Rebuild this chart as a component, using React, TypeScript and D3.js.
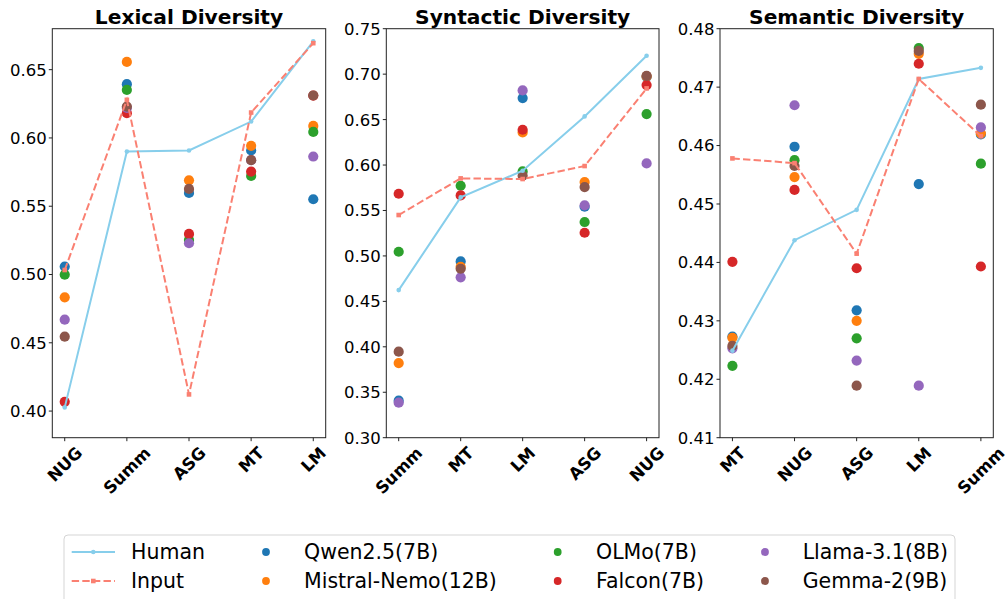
import React, { useEffect, useRef } from "react";
import * as d3 from "d3";

// ---------- DATA ----------
const lexCats = ["NUG", "Summ", "ASG", "MT", "LM"];
const lexHuman = [0.4027, 0.590, 0.5908, 0.612, 0.6707];
const lexInput = [0.5033, 0.6279, 0.4122, 0.6186, 0.6694];
const lexQwen = [0.5058, 0.6394, 0.5597, 0.5908, 0.5551];
const lexMistral = [0.4833, 0.6557, 0.569, 0.5942, 0.6088];
const lexOlmo = [0.4999, 0.6352, 0.5253, 0.5722, 0.6044];
const lexFalcon = [0.4068, 0.6181, 0.5297, 0.5754, 0.631];
const lexLlama = [0.4669, 0.622, 0.5229, 0.5837, 0.5864];
const lexGemma = [0.4545, 0.623, 0.5627, 0.5837, 0.6311];

const synCats = ["Summ", "MT", "LM", "ASG", "NUG"];
const synHuman = [0.4624, 0.5644, 0.5937, 0.6535, 0.7202];
const synInput = [0.545, 0.5853, 0.5846, 0.5989, 0.6843];
const synQwen = [0.3407, 0.494, 0.6737, 0.5541, 0.697];
const synMistral = [0.3821, 0.488, 0.6359, 0.5813, 0.6975];
const synOlmo = [0.5046, 0.5772, 0.593, 0.5373, 0.6561];
const synFalcon = [0.5684, 0.5666, 0.6388, 0.5255, 0.688];
const synLlama = [0.3385, 0.4764, 0.6821, 0.5556, 0.6018];
const synGemma = [0.3946, 0.4859, 0.5882, 0.5758, 0.6982];

const semCats = ["MT", "NUG", "ASG", "LM", "Summ"];
const semHuman = [0.4249, 0.4438, 0.449, 0.4714, 0.4733];
const semInput = [0.4578, 0.457, 0.4415, 0.4714, 0.4616];
const semQwen = [0.4273, 0.4598, 0.4318, 0.4534, 0.4619];
const semMistral = [0.4271, 0.4546, 0.43, 0.4757, 0.4621];
const semOlmo = [0.4223, 0.4575, 0.427, 0.4767, 0.4569];
const semFalcon = [0.4401, 0.4524, 0.439, 0.474, 0.4393];
const semLlama = [0.4253, 0.4669, 0.4232, 0.4189, 0.4631];
const semGemma = [0.4257, 0.4565, 0.4189, 0.4762, 0.467];

const lexTicks = [0.4, 0.45, 0.5, 0.55, 0.6, 0.65];
const synTicks = [0.3, 0.35, 0.4, 0.45, 0.5, 0.55, 0.6, 0.65, 0.7, 0.75];
const semTicks = [0.41, 0.42, 0.43, 0.44, 0.45, 0.46, 0.47, 0.48];

const modelNames = ["Qwen2.5(7B)", "Mistral-Nemo(12B)", "OLMo(7B)", "Falcon(7B)", "Llama-3.1(8B)", "Gemma-2(9B)"];
const modelColors = ["#1f77b4", "#ff7f0e", "#2ca02c", "#d62728", "#9467bd", "#8c564b"];
const humanColor = "#87ceeb";
const inputColor = "#fa8072";

const panels = [
  { title: "Lexical Diversity", cats: lexCats, human: lexHuman, input: lexInput,
    models: [lexQwen, lexMistral, lexOlmo, lexFalcon, lexLlama, lexGemma],
    domain: [0.3805, 0.68], ticks: lexTicks, x0: 52.3, x1: 325.7 },
  { title: "Syntactic Diversity", cats: synCats, human: synHuman, input: synInput,
    models: [synQwen, synMistral, synOlmo, synFalcon, synLlama, synGemma],
    domain: [0.3, 0.75], ticks: synTicks, x0: 386.3, x1: 659 },
  { title: "Semantic Diversity", cats: semCats, human: semHuman, input: semInput,
    models: [semQwen, semMistral, semOlmo, semFalcon, semLlama, semGemma],
    domain: [0.41, 0.48], ticks: semTicks, x0: 720, x1: 993.3 },
];

const FONT = "'DejaVu Sans', sans-serif";

export default function App() {
  const ref = useRef<SVGSVGElement | null>(null);

  useEffect(() => {
    const svg = d3.select(ref.current);
    svg.selectAll("*").remove();
    const yTop = 28.7, yBot = 437.7;

    panels.forEach((p) => {
      const x = d3.scalePoint<string>().domain(p.cats).range([p.x0, p.x1]).padding(0.2);
      const y = d3.scaleLinear().domain(p.domain).range([yBot, yTop]);
      const g = svg.append("g");

      // scatter (drawn below lines)
      p.models.forEach((vals, mi) => {
        g.selectAll(null)
          .data(vals)
          .enter()
          .append("circle")
          .attr("cx", (_d, i) => x(p.cats[i]) as number)
          .attr("cy", (d) => y(d))
          .attr("r", 5.1)
          .attr("fill", modelColors[mi]);
      });

      const line = d3
        .line<number>()
        .x((_d, i) => x(p.cats[i]) as number)
        .y((d) => y(d));

      // Human line
      g.append("path").attr("d", line(p.human)).attr("fill", "none")
        .attr("stroke", humanColor).attr("stroke-width", 2);
      g.selectAll(null).data(p.human).enter().append("circle")
        .attr("cx", (_d, i) => x(p.cats[i]) as number)
        .attr("cy", (d) => y(d)).attr("r", 2.3).attr("fill", humanColor);

      // Input line
      g.append("path").attr("d", line(p.input)).attr("fill", "none")
        .attr("stroke", inputColor).attr("stroke-width", 2)
        .attr("stroke-dasharray", "7.4,3.2");
      g.selectAll(null).data(p.input).enter().append("rect")
        .attr("x", (_d, i) => (x(p.cats[i]) as number) - 2.3)
        .attr("y", (d) => y(d) - 2.3).attr("width", 4.6).attr("height", 4.6)
        .attr("fill", inputColor);

      // frame
      g.append("rect").attr("x", p.x0).attr("y", yTop).attr("width", p.x1 - p.x0)
        .attr("height", yBot - yTop).attr("fill", "none").attr("stroke", "#222").attr("stroke-width", 1);

      // y ticks
      p.ticks.forEach((t) => {
        const yy = y(t);
        g.append("line").attr("x1", p.x0 - 3.5).attr("x2", p.x0).attr("y1", yy).attr("y2", yy)
          .attr("stroke", "#222").attr("stroke-width", 1);
        g.append("text").attr("x", p.x0 - 5.5).attr("y", yy).attr("dy", "0.36em")
          .attr("text-anchor", "end").attr("font-family", FONT).attr("font-size", 16.5)
          .attr("fill", "#000").text(d3.format(".2f")(t));
      });

      // x ticks
      p.cats.forEach((c) => {
        const xx = x(c) as number;
        g.append("line").attr("x1", xx).attr("x2", xx).attr("y1", yBot).attr("y2", yBot + 3.5)
          .attr("stroke", "#222").attr("stroke-width", 1);
        const s = 16.5;
        const t = g.append("text").attr("text-anchor", "middle").attr("dy", "0.365em")
          .attr("font-family", FONT).attr("font-size", s).attr("font-weight", "bold")
          .attr("fill", "#000").text(c);
        const w = (t.node() as SVGTextElement).getComputedTextLength();
        const cy = 445.5 + ((w + 0.73 * s) * Math.SQRT1_2) / 2;
        t.attr("transform", `translate(${xx},${cy}) rotate(-45)`);
      });

      // title
      g.append("text").attr("x", (p.x0 + p.x1) / 2).attr("y", 24).attr("text-anchor", "middle")
        .attr("font-family", FONT).attr("font-size", 20.2).attr("font-weight", "bold")
        .attr("fill", "#000").text(p.title);
    });

    // legend
    const lg = svg.append("g");
    lg.append("rect").attr("x", 64).attr("y", 535).attr("width", 891).attr("height", 70)
      .attr("rx", 4).attr("fill", "#fff").attr("stroke", "#d5d5d5").attr("stroke-width", 1);
    const rowY = [552, 581];
    const fs = 20.5;
    // Human
    lg.append("line").attr("x1", 71.7).attr("x2", 115).attr("y1", rowY[0]).attr("y2", rowY[0])
      .attr("stroke", humanColor).attr("stroke-width", 2);
    lg.append("circle").attr("cx", 93.3).attr("cy", rowY[0]).attr("r", 2.3).attr("fill", humanColor);
    lg.append("text").attr("x", 131).attr("y", rowY[0]).attr("dy", "0.36em").attr("font-family", FONT)
      .attr("font-size", fs).text("Human");
    // Input
    lg.append("line").attr("x1", 71.7).attr("x2", 115).attr("y1", rowY[1]).attr("y2", rowY[1])
      .attr("stroke", inputColor).attr("stroke-width", 2).attr("stroke-dasharray", "7.4,3.2");
    lg.append("rect").attr("x", 93.3 - 2.3).attr("y", rowY[1] - 2.3).attr("width", 4.6).attr("height", 4.6)
      .attr("fill", inputColor);
    lg.append("text").attr("x", 131).attr("y", rowY[1]).attr("dy", "0.36em").attr("font-family", FONT)
      .attr("font-size", fs).text("Input");

    const colMarkerX = [266, 557.7, 765];
    const colTextX = [304, 596, 802.7];
    modelNames.forEach((name, i) => {
      const col = Math.floor(i / 2);
      const row = i % 2;
      lg.append("circle").attr("cx", colMarkerX[col]).attr("cy", rowY[row]).attr("r", 3.9)
        .attr("fill", modelColors[i]);
      lg.append("text").attr("x", colTextX[col]).attr("y", rowY[row]).attr("dy", "0.36em")
        .attr("font-family", FONT).attr("font-size", fs).text(name);
    });
  }, []);

  return (
    <svg
      ref={ref}
      width={1005}
      height={599}
      style={{ position: "fixed", left: 0, top: 0, background: "#fff" }}
    />
  );
}
